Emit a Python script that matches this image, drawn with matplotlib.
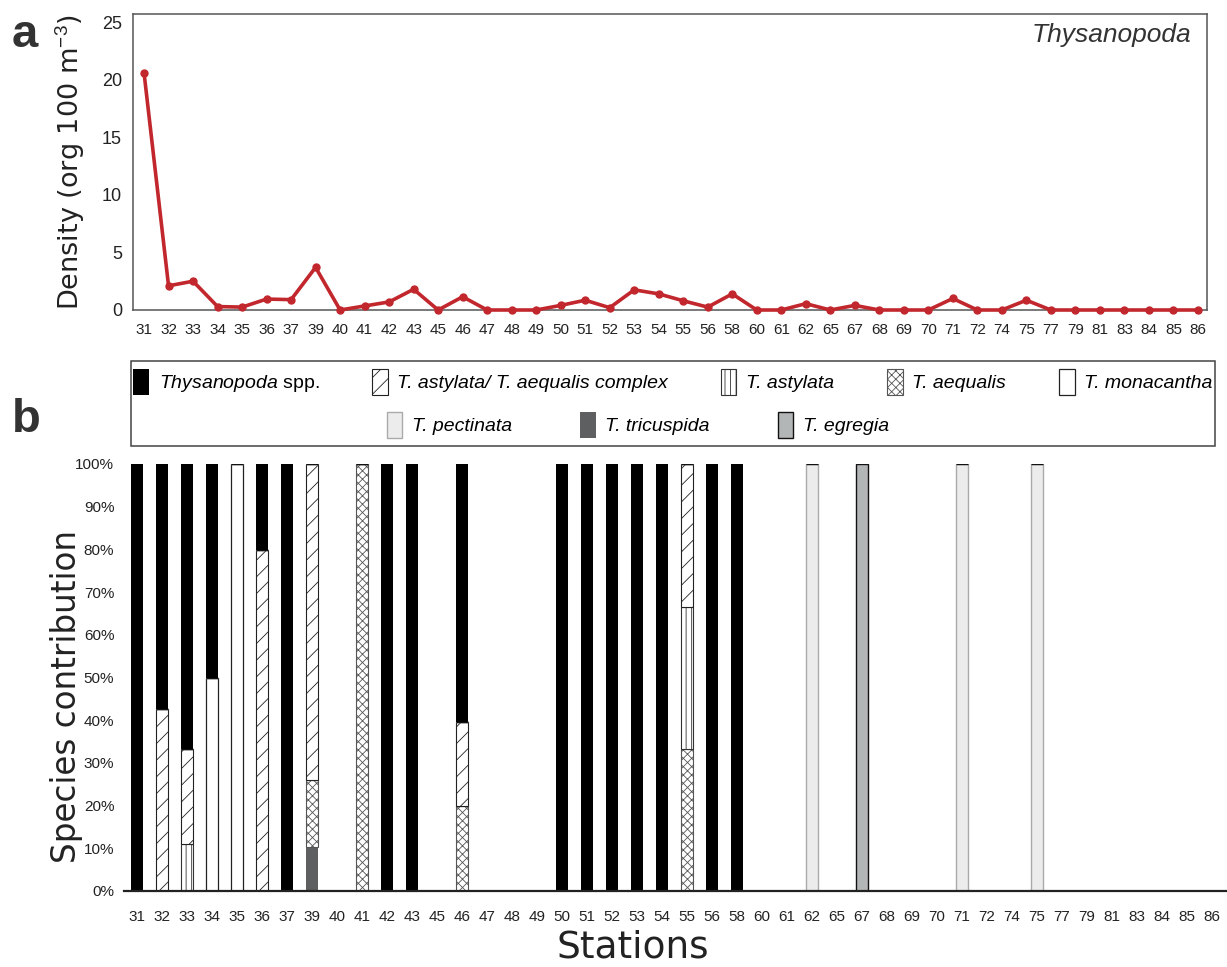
import matplotlib
matplotlib.use('Agg')
import matplotlib.pyplot as plt
import numpy as np
from matplotlib.patches import Rectangle

plt.rcParams['font.family'] = 'Liberation Sans'
plt.rcParams['mathtext.fontset'] = 'custom'
plt.rcParams['mathtext.rm'] = 'Liberation Sans'
plt.rcParams['mathtext.it'] = 'Liberation Sans:italic'
plt.rcParams['hatch.linewidth'] = 0.6

# stations sampled
stations = ['31', '32', '33', '34', '35', '36', '37', '39', '40', '41', '42', '43',
            '45', '46', '47', '48', '49', '50', '51', '52', '53', '54', '55', '56',
            '58', '60', '61', '62', '65', '67', '68', '69', '70', '71', '72', '74',
            '75', '77', '79', '81', '83', '84', '85', '86']

# panel a - density (org 100 m-3)
density = [20.6, 2.1, 2.5, 0.3, 0.25, 0.95, 0.9, 3.7, 0, 0.35, 0.7, 1.8,
           0, 1.15, 0, 0, 0, 0.4, 0.85, 0.2, 1.75, 1.4, 0.8, 0.25,
           1.4, 0, 0, 0.55, 0, 0.4, 0, 0, 0, 1.0, 0, 0,
           0.85, 0, 0, 0, 0, 0, 0, 0]

# panel b - species contribution (%)
tricuspida = [0, 0, 0, 0, 0, 0, 0, 10.3, 0, 0, 0, 0,
              0, 0, 0, 0, 0, 0, 0, 0, 0, 0, 0, 0,
              0, 0, 0, 0, 0, 0, 0, 0, 0, 0, 0, 0,
              0, 0, 0, 0, 0, 0, 0, 0]
aequalis = [0, 0, 0, 0, 0, 0, 0, 15.8, 0, 100, 0, 0,
            0, 19.9, 0, 0, 0, 0, 0, 0, 0, 0, 33.3, 0,
            0, 0, 0, 0, 0, 0, 0, 0, 0, 0, 0, 0,
            0, 0, 0, 0, 0, 0, 0, 0]
astylata = [0, 0, 10.9, 0, 0, 0, 0, 0, 0, 0, 0, 0,
            0, 0, 0, 0, 0, 0, 0, 0, 0, 0, 33.3, 0,
            0, 0, 0, 0, 0, 0, 0, 0, 0, 0, 0, 0,
            0, 0, 0, 0, 0, 0, 0, 0]
complex_ = [0, 42.7, 22.3, 0, 0, 79.8, 0, 73.9, 0, 0, 0, 0,
            0, 19.6, 0, 0, 0, 0, 0, 0, 0, 0, 33.4, 0,
            0, 0, 0, 0, 0, 0, 0, 0, 0, 0, 0, 0,
            0, 0, 0, 0, 0, 0, 0, 0]
monacantha = [0, 0, 0, 49.8, 100, 0, 0, 0, 0, 0, 0, 0,
              0, 0, 0, 0, 0, 0, 0, 0, 0, 0, 0, 0,
              0, 0, 0, 0, 0, 0, 0, 0, 0, 0, 0, 0,
              0, 0, 0, 0, 0, 0, 0, 0]
pectinata = [0, 0, 0, 0, 0, 0, 0, 0, 0, 0, 0, 0,
             0, 0, 0, 0, 0, 0, 0, 0, 0, 0, 0, 0,
             0, 0, 0, 100, 0, 0, 0, 0, 0, 100, 0, 0,
             100, 0, 0, 0, 0, 0, 0, 0]
egregia = [0, 0, 0, 0, 0, 0, 0, 0, 0, 0, 0, 0,
           0, 0, 0, 0, 0, 0, 0, 0, 0, 0, 0, 0,
           0, 0, 0, 0, 0, 100, 0, 0, 0, 0, 0, 0,
           0, 0, 0, 0, 0, 0, 0, 0]
spp = [100, 57.3, 66.8, 50.2, 0, 20.2, 100, 0, 0, 0, 100, 100,
       0, 60.5, 0, 0, 0, 100, 100, 100, 100, 100, 0, 100,
       100, 0, 0, 0, 0, 0, 0, 0, 0, 0, 0, 0,
       0, 0, 0, 0, 0, 0, 0, 0]

x = np.arange(len(stations))

fig = plt.figure(figsize=(12.27, 9.67), dpi=100)

# ---- panel a
ax1 = fig.add_axes([133/1227, 1 - 310/967, 1074/1227, 296/967])
ax1.plot(x, density, color='#c1272d', linewidth=2.6, marker='o', markersize=5, clip_on=False, zorder=3)
ax1.set_xlim(-0.45, 43.37)
ax1.set_ylim(0, 25.7)
ax1.set_yticks([0, 5, 10, 15, 20, 25])
ax1.set_xticks(x)
ax1.set_xticklabels(stations)
ax1.tick_params(axis='both', length=0, labelsize=11, colors='#222')
ax1.tick_params(axis='x', pad=9)
ax1.tick_params(axis='y', pad=8, labelsize=13)
for s in ax1.spines.values():
    s.set_color('#555')
    s.set_linewidth(1.1)
ax1.set_ylabel('Density (org 100 m$^{-3}$)', fontsize=19.5, color='#222', family='DejaVu Sans')
ax1.yaxis.set_label_coords(-0.043, 0.5)
ax1.text(0.985, 0.93, 'Thysanopoda', transform=ax1.transAxes, ha='right', va='center',
         fontsize=19, style='italic', color='#333')

# ---- panel b
ax2 = fig.add_axes([124/1227, 1 - 891/967, 1103/1227, 427/967])
w = 0.45
layers = [
    (tricuspida, dict(color='#5e5f61', edgecolor='#5e5f61', linewidth=0)),
    (aequalis, dict(color='white', edgecolor='#555555', hatch='xxxx', linewidth=0.8)),
    (astylata, dict(color='white', edgecolor='#333333', hatch='|||', linewidth=0.8)),
    (complex_, dict(color='white', edgecolor='#222222', hatch='//', linewidth=0.8)),
    (monacantha, dict(color='white', edgecolor='#222222', linewidth=0.9)),
    (pectinata, dict(color='#ececec', edgecolor='#aaaaaa', linewidth=1.0)),
    (egregia, dict(color='#b3b6b7', edgecolor='#111111', linewidth=1.0)),
    (spp, dict(color='black', edgecolor='black', linewidth=0)),
]
bottom = np.zeros(len(stations))
handles = []
for vals, style in layers:
    b = ax2.bar(x, vals, width=w, bottom=bottom, **style)
    handles.append(b)
    bottom = bottom + np.array(vals)

ax2.set_xlim(-0.52, 43.6)
ax2.set_ylim(0, 100)
ax2.set_yticks(np.arange(0, 101, 10))
ax2.set_yticklabels([f'{v}%' for v in range(0, 101, 10)])
ax2.set_xticks(x)
ax2.set_xticklabels(stations)
ax2.tick_params(axis='both', length=0, labelsize=11, colors='#222')
ax2.tick_params(axis='x', pad=14)
ax2.tick_params(axis='y', pad=7)
for side in ['top', 'right', 'left']:
    ax2.spines[side].set_visible(False)
ax2.spines['bottom'].set_linewidth(1.6)
ax2.spines['bottom'].set_color('#222')
ax2.set_ylabel('Species contribution', fontsize=23.5, color='#222', family='DejaVu Sans')
ax2.yaxis.set_label_coords(-0.037, 0.455)
fig.text(633/1227, 1 - 947/967, 'Stations', ha='center', va='center', fontsize=27,
         color='#222', family='DejaVu Sans')

# ---- legend box with two rows
fig.patches.append(Rectangle((131/1227, 1 - 446/967), 1084/1227, 85/967,
                             transform=fig.transFigure, fill=False, edgecolor='#444', linewidth=1.1))
row1 = [handles[7], handles[3], handles[2], handles[1], handles[4]]
row1_labels = [r'$\mathit{Thysanopoda}$ $\mathrm{spp.}$', 'T. astylata/ T. aequalis complex',
               'T. astylata', 'T. aequalis', 'T. monacantha']
row2 = [handles[5], handles[0], handles[6]]
row2_labels = ['T. pectinata', 'T. tricuspida', 'T. egregia']
leg_kw = dict(frameon=False, prop={'style': 'italic', 'size': 14}, handlelength=0.8,
              handleheight=1.7, handletextpad=0.5, borderaxespad=0)
fig.legend(row1, row1_labels, ncol=5, loc='center', bbox_to_anchor=(673/1227, 1 - 382/967),
           columnspacing=2.72, **leg_kw)
fig.legend(row2, row2_labels, ncol=3, loc='center', bbox_to_anchor=(638/1227, 1 - 425/967),
           columnspacing=3.5, **leg_kw)

fig.text(12/1227, 1 - 35/967, 'a', fontsize=34, fontweight='bold', color='#333', va='center')
fig.text(12/1227, 1 - 420/967, 'b', fontsize=34, fontweight='bold', color='#333', va='center')

fig.savefig('out.png', dpi=100)
